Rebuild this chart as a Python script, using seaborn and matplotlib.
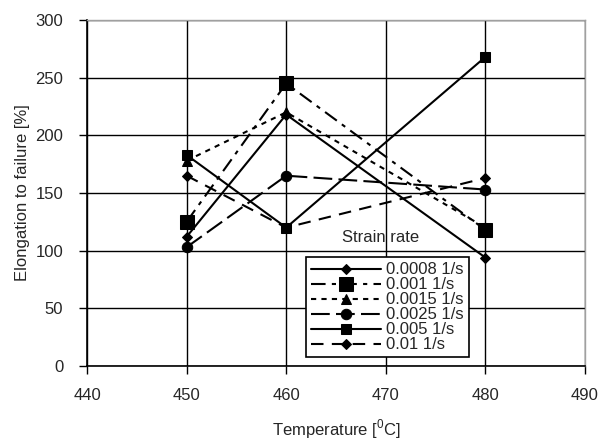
import matplotlib
matplotlib.use("Agg")
import matplotlib.pyplot as plt
import seaborn as sns
import pandas as pd

sns.set_style('white')
plt.rcParams['font.family'] = ['Liberation Sans', 'DejaVu Sans']
plt.rcParams['mathtext.fontset'] = 'custom'
plt.rcParams['mathtext.rm'] = 'Liberation Sans'

# Data
temperature = [450, 460, 480]
rate_labels = ['0.0008 1/s', '0.001 1/s', '0.0015 1/s', '0.0025 1/s', '0.005 1/s', '0.01 1/s']
elong_00008 = [112, 218, 94]
elong_0001 = [125, 245, 118]
elong_00015 = [178, 220, 120]
elong_00025 = [103, 165, 153]
elong_0005 = [183, 120, 268]
elong_001 = [165, 120, 163]

series = [elong_00008, elong_0001, elong_00015, elong_00025, elong_0005, elong_001]

rows = []
for lab, vals in zip(rate_labels, series):
    for t, v in zip(temperature, vals):
        rows.append({'Temperature': t, 'Elongation': v, 'Rate': lab})
df = pd.DataFrame(rows)

# line styling per strain rate
styles = {
    '0.0008 1/s': dict(marker='D', markersize=5.5, linestyle='-'),
    '0.001 1/s': dict(marker='s', markersize=9.5, linestyle=(0, (7, 3, 2, 3))),
    '0.0015 1/s': dict(marker='^', markersize=7, linestyle=(0, (2.5, 2.5))),
    '0.0025 1/s': dict(marker='o', markersize=7.5, linestyle=(0, (9, 3))),
    '0.005 1/s': dict(marker='s', markersize=7, linestyle='-'),
    '0.01 1/s': dict(marker='D', markersize=5.5, linestyle=(0, (6, 4))),
}

fig = plt.figure(figsize=(5.98, 4.41), dpi=100)
ax = fig.add_axes([87 / 598, 1 - 366 / 441, (585 - 87) / 598, (366 - 20) / 441])

for lab in rate_labels:
    sub = df[df['Rate'] == lab]
    sns.lineplot(data=sub, x='Temperature', y='Elongation', ax=ax, color='black',
                 linewidth=1.5, label=lab, markeredgecolor='black', **styles[lab])

ax.set_xlim(440, 490)
ax.set_ylim(0, 300)
ax.set_xticks(range(440, 491, 10))
ax.set_yticks(range(0, 301, 50))
ax.grid(True, color='black', linewidth=1)
ax.tick_params(axis='both', direction='out', length=6, width=1, labelsize=12,
               left=True, bottom=True, color='black')
ax.tick_params(axis='x', pad=10)
ax.tick_params(axis='y', pad=11)
for side in ['left', 'bottom']:
    ax.spines[side].set_color('black')
    ax.spines[side].set_linewidth(1.2)
for side in ['top', 'right']:
    ax.spines[side].set_color('#a0a0a0')
    ax.spines[side].set_linewidth(1)

ax.set_xlabel('Temperature [$^\\mathregular{0}$C]', fontsize=12, labelpad=10)
ax.set_ylabel('Elongation to failure [%]', fontsize=12, labelpad=4)

ax.text(0.589, 0.372, 'Strain rate', transform=ax.transAxes, fontsize=12,
        ha='center', va='center')

leg = ax.legend(loc='upper left', bbox_to_anchor=(0.44, 0.314), borderaxespad=0,
                fontsize=12, handlelength=4.2, handletextpad=0.3, labelspacing=0.0,
                borderpad=0.3, frameon=True, fancybox=False, framealpha=1)
leg.get_frame().set_edgecolor('black')
leg.get_frame().set_linewidth(1.2)

fig.savefig('out.png', dpi=100)
